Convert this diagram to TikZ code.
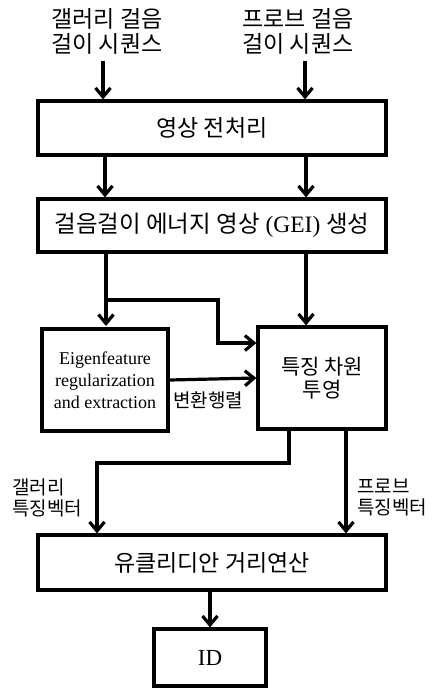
\documentclass[tikz,border=0pt]{standalone}
\usepackage{fontspec}
\setmainfont{Liberation Serif}
\newfontfamily\kr{Noto Sans CJK KR}
\usetikzlibrary{arrows.meta}
\begin{document}
\begin{tikzpicture}[x=1pt,y=-1pt,
  box/.style={draw,line width=3.2pt,minimum width=348pt,inner sep=0pt,align=center},
  arr/.style={line width=3.2pt,-{Straight Barb[length=9pt,width=15pt]}},
  lbl/.style={inner sep=0pt,align=center,font=\kr\fontsize{23}{25}\selectfont},
  slbl/.style={inner sep=0pt,align=left,font=\kr\fontsize{19}{21}\selectfont}]
\useasboundingbox (0,0) rectangle (433,688);
% top labels
\node[lbl] (gtxt) at (107,31) {갤러리 걸음\\걸이 시퀀스};
\node[lbl] (ptxt) at (298,31) {프로브 걸음\\걸이 시퀀스};
% boxes
\node[box,minimum height=54pt,font=\kr\fontsize{23}{26}\selectfont] (pre) at (212,128) {영상 전처리};
\node[box,minimum height=53pt,font=\fontsize{23.5}{26}\selectfont] (gei) at (212,225.5) {{\kr 걸음걸이 에너지 영상} (GEI) {\kr 생성}};
\node[box,minimum width=126pt,minimum height=102pt,font=\fontsize{18}{22}\selectfont] (eig) at (105,380) {Eigenfeature\\regularization\\and extraction};
\node[box,minimum width=128pt,minimum height=102pt,font=\kr\fontsize{21}{23}\selectfont] (feat) at (322,378) {특징 차원\\투영};
\node[box,minimum height=55pt,font=\kr\fontsize{23}{26}\selectfont] (euc) at (212,562.5) {유클리디안 거리연산};
\node[box,minimum width=112pt,minimum height=57pt,font=\fontsize{23}{26}\selectfont] (id) at (210,657.5) {ID};
% input arrows
\coordinate (g0) at (103,61);
\coordinate (p0) at (305,61);
\draw[arr] (g0) -- (g0 |- pre.north);
\draw[arr] (p0) -- (p0 |- pre.north);
% pre -> gei
\draw[arr] ([xshift=-107pt]pre.south) -- ([xshift=-107pt]gei.north);
\draw[arr] ([xshift=94pt]pre.south) -- ([xshift=94pt]gei.north);
% gei -> eig, feat
\draw[arr] (106,253) -- (106,326);
\coordinate (br) at (106,300);
\coordinate (bk) at (218,343);
\draw[arr] (br) -| (bk) -- ([yshift=35pt]feat.west);
\draw[arr] ([xshift=94pt]gei.south) -- ([xshift=-16pt]feat.north);
% eig -> feat
\draw[arr] (eig.east) -- (feat.west);
\node[slbl] (mat) at (208,400) {변환행렬};
% feat -> euc
\coordinate (m1) at (97,463);
\draw[arr] ([xshift=-33pt]feat.south) |- (m1) -- ([xshift=-115pt]euc.north);
\draw[arr] ([xshift=24pt]feat.south) -- ([xshift=134pt]euc.north);
\node[slbl,anchor=west] (gv) at (12,498) {갤러리\\특징벡터};
\node[slbl,anchor=west] (pv) at (357,498) {프로브\\특징벡터};
% euc -> id
\draw[arr] (id.north |- euc.south) -- (id.north);
\end{tikzpicture}
\end{document}
